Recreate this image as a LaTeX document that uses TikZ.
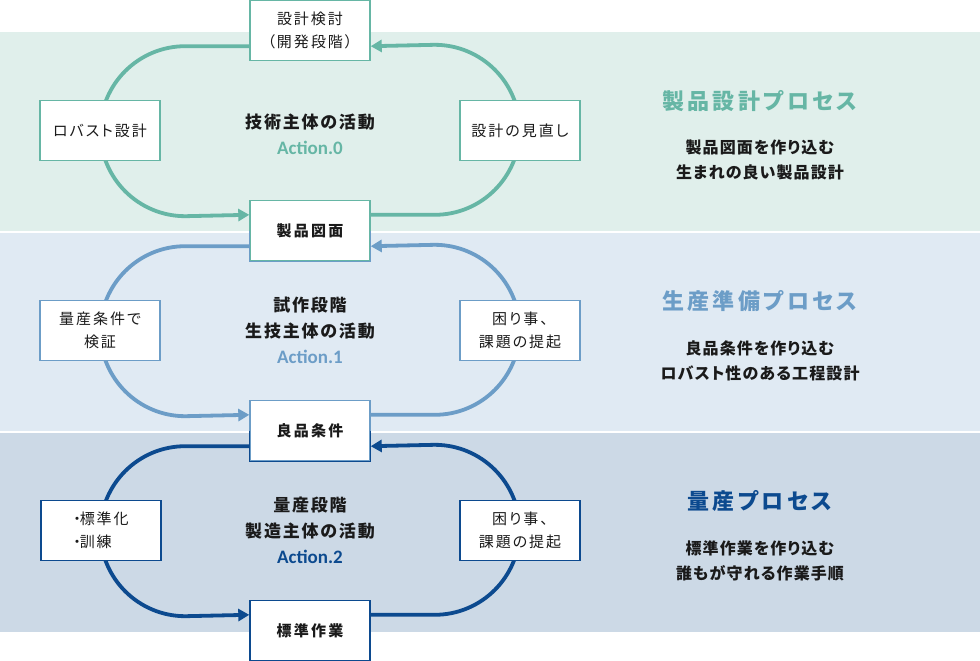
\documentclass[tikz,border=0pt]{standalone}
\usepackage{fontspec}
\setmainfont[RawFeature=+palt]{Noto Sans CJK JP}
\newfontfamily\latinf{Carlito}
\usetikzlibrary{arrows.meta}
\pgfdeclarelayer{bg}\pgfdeclarelayer{mid}\pgfsetlayers{bg,mid,main}
\def\trk{0pt}
\newXeTeXintercharclass\jpclass
\def\setjc#1{\ifx#1\relax\else\XeTeXcharclass`#1=\jpclass\expandafter\setjc\fi}
\setjc 設計検討（開発段階）製品図面ロバスト設の見直し量産条件で検証困り事、課題提起標準化訓練良作業技術主体活動試生造プセス準備を込むまれいあ性工程誰もが守る手順\relax
\XeTeXinterchartoks\jpclass\jpclass={\hskip\trk\relax}
\XeTeXinterchartokenstate=1
\definecolor{cA}{HTML}{66B6A5}
\definecolor{cB}{HTML}{6C9DC7}
\definecolor{cC}{HTML}{0C4A8F}
\definecolor{bandA}{HTML}{E0EFEB}
\definecolor{bandB}{HTML}{E0EAF3}
\definecolor{bandC}{HTML}{CCD9E6}
\definecolor{txt}{HTML}{1A1A1A}
\tikzset{
 box/.style={draw=#1, fill=white, line width=1.4pt, minimum width=120pt, minimum height=60pt, inner sep=0pt, align=center, font=\def\trk{2pt}\fontsize{15}{23}\selectfont, text=txt},
 keybox/.style={box=#1, font=\def\trk{2.3pt}\fontsize{15}{20}\selectfont\bfseries},
 lp/.style={draw=#1, line width=3.8pt, -{Triangle[length=11pt,width=12pt]}},
 ctr/.style={align=center, font=\def\trk{1.8pt}\fontsize{17}{26}\selectfont\bfseries, text=txt},
 head/.style={font=\def\trk{3.2pt}\fontsize{22}{26}\selectfont\bfseries, text=#1},
 sub/.style={align=center, font=\def\trk{1.1pt}\fontsize{16}{25}\selectfont\bfseries, text=txt},
 act/.style={font=\latinf\fontsize{19}{22}\selectfont\bfseries, text=#1},
}
\begin{document}
\begin{tikzpicture}[x=1pt,y=1pt]
\useasboundingbox (0,0) rectangle (980,-661);
\begin{pgfonlayer}{bg}
\fill[white] (0,0) rectangle (980,-661);
\fill[bandA] (0,-32) rectangle (980,-231);
\fill[bandB] (0,-233) rectangle (980,-431);
\fill[bandC] (0,-433) rectangle (980,-632);
\end{pgfonlayer}

% key boxes
\node[box=cA] (T0) at (310,-30.5) {設計検討\\（開発段階）};
\node[keybox=cA] (B0) at (310,-230.5) {製品図面};
\node[keybox=cB] (B1) at (310,-430.5) {良品条件};
\node[keybox=cC] (B2) at (310,-630.5) {標準作業};
\draw[cB, line width=1.4pt] (B0.west) -- (B0.south west) -- (B0.south east) -- (B0.east);
\draw[cC, line width=1.4pt] (B1.west) -- (B1.south west) -- (B1.south east) -- (B1.east);

% side boxes
\node[box=cA] (L0) at (100,-130.5) {ロバスト設計};
\node[box=cA] (R0) at (520,-130.5) {設計の見直し};
\node[box=cB] (L1) at (100,-330.5) {量産条件で\\検証};
\node[box=cB] (R1) at (520,-330.5) {困り事、\\課題の提起};
\node[box=cC, align=left] (L2) at (101,-530.5) {・\kern-1pt標準化\\・\kern-1pt訓練};
\node[box=cC] (R2) at (520,-530.5) {困り事、\\課題の提起};

% loops
\begin{pgfonlayer}{mid}
\draw[lp=cA] ([yshift=-15pt]B0.north east) -- ++(64,0) arc[start angle=-90,end angle=90,radius=85] -- ([yshift=15pt]T0.south east);
\draw[lp=cA] ([yshift=15pt]T0.south west) -- ++(-64,0) arc[start angle=90,end angle=270,radius=85] -- ([yshift=-15pt]B0.north west);
\draw[lp=cB] ([yshift=-15pt]B1.north east) -- ++(64,0) arc[start angle=-90,end angle=90,radius=85] -- ([yshift=15pt]B0.south east);
\draw[lp=cB] ([yshift=15pt]B0.south west) -- ++(-64,0) arc[start angle=90,end angle=270,radius=85] -- ([yshift=-15pt]B1.north west);
\draw[lp=cC] ([yshift=-15pt]B2.north east) -- ++(64,0) arc[start angle=-90,end angle=90,radius=85] -- ([yshift=15pt]B1.south east);
\draw[lp=cC] ([yshift=15pt]B1.south west) -- ++(-64,0) arc[start angle=90,end angle=270,radius=85] -- ([yshift=-15pt]B2.north west);
\end{pgfonlayer}

% centre texts
\node[ctr] (c0) at (310,-122) {技術主体の活動};
\node[act=cA] (a0) at (310,-148) {Action.0};
\node[ctr] (c1) at (310,-318) {試作段階\\生技主体の活動};
\node[act=cB] (a1) at (310,-357) {Action.1};
\node[ctr] (c2) at (310,-518) {量産段階\\製造主体の活動};
\node[act=cC] (a2) at (310,-557) {Action.2};

% right texts
\node[head=cA] (h0) at (760,-101) {製品設計プロセス};
\node[sub] (s0) at (760,-159.5) {製品図面を作り込む\\生まれの良い製品設計};
\node[head=cB] (h1) at (760,-301) {生産準備プロセス};
\node[sub] (s1) at (760,-360.5) {良品条件を作り込む\\ロバスト性のある工程設計};
\node[head=cC] (h2) at (760,-501) {量産プロセス};
\node[sub] (s2) at (760,-560.5) {標準作業を作り込む\\誰もが守れる作業手順};
\end{tikzpicture}
\end{document}
